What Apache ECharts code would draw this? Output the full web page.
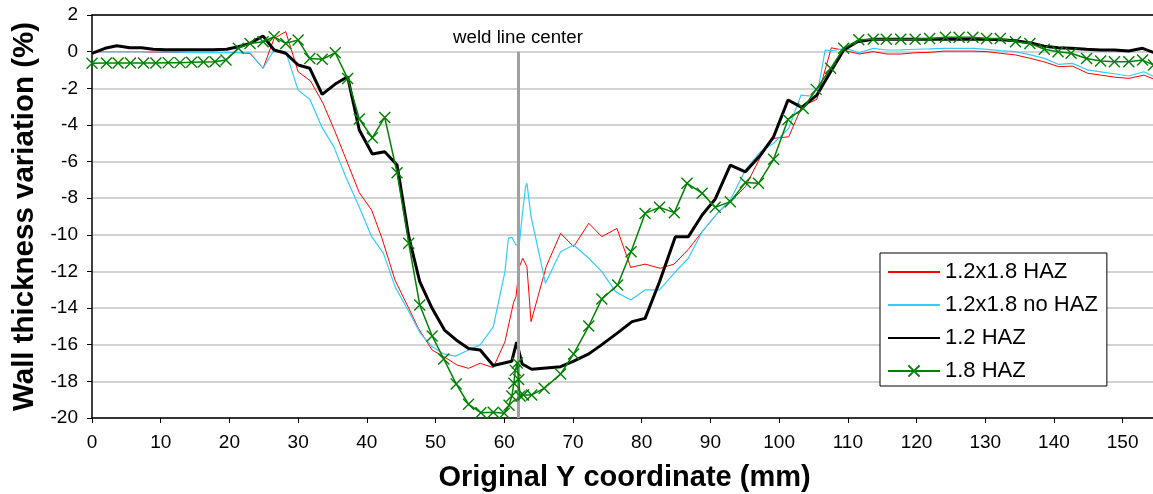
<!DOCTYPE html>
<html>
<head>
<meta charset="utf-8">
<script src="https://cdn.jsdelivr.net/npm/echarts@6/dist/echarts.min.js"></script>
<style>
html,body{margin:0;padding:0;background:#fff;}
#chart{width:1153px;height:494px;}
</style>
</head>
<body>
<div id="chart"></div>
<script>
// ---- Data (Original Y coordinate mm, wall thickness variation %) ----
const seriesNames = ['1.2x1.8 HAZ', '1.2x1.8 no HAZ', '1.2 HAZ', '1.8 HAZ'];
const weldX = 62;
const weldLabel = 'weld line center';
const xTitle = 'Original Y coordinate (mm)';
const yTitle = 'Wall thickness variation (%)';

const red = [[0,0],[1.9,0],[3.6,0],[5.5,0],[7.2,0],[8.9,-0.02],[10.7,-0.03],[12.4,-0.04],[14.1,-0.05],[15.8,-0.05],[17.6,-0.05],[19.6,-0.05],[21.3,-0.05],[23.0,-0.1],[24.9,-0.91],[26.5,0.72],[28.2,1.09],[30.0,-1.1],[31.8,-1.6],[33.6,-2.8],[35.3,-4.3],[37.0,-5.9],[38.9,-7.7],[40.7,-8.65],[42.2,-10.19],[44.1,-12.47],[46.1,-14.01],[47.5,-15.1],[49.5,-16.29],[51.2,-16.65],[53.1,-17.1],[54.8,-17.29],[56.5,-17.01],[58.4,-17.25],[60.1,-15.84],[61.35,-13.7],[61.7,-13.38],[62.2,-11.74],[62.7,-11.28],[63.3,-11.74],[63.9,-14.74],[65.7,-12.29],[66.1,-11.74],[68.2,-9.92],[70.1,-10.65],[72.3,-9.37],[74.2,-10.1],[76.4,-9.65],[78.4,-11.78],[80.5,-11.6],[82.7,-11.83],[84.7,-11.6],[86.8,-10.79],[88.8,-9.83],[91.0,-8.83],[92.9,-8.19],[95.1,-7.37],[97.3,-5.74],[99.2,-4.73],[101.4,-4.65],[103.3,-3.0],[105.5,-2.6],[107.6,0.21],[109.7,0.05],[111.7,-0.13],[113.7,0],[115.7,-0.13],[117.7,-0.13],[119.9,-0.06],[122.0,-0.04],[124.0,0.03],[126.1,0.03],[128.2,0.03],[130.3,0],[132.2,-0.09],[134.4,-0.18],[136.6,-0.37],[138.5,-0.55],[140.7,-0.82],[142.7,-0.79],[144.9,-1.18],[146.8,-1.28],[149.0,-1.4],[150.9,-1.46],[153.1,-1.28],[154.6,-1.51]];

const cyan = [[0,0],[1.9,0],[3.6,0],[5.5,0],[7.2,0],[8.9,0],[10.7,-0.02],[12.4,-0.03],[14.1,-0.04],[15.8,-0.05],[17.6,-0.05],[19.6,-0.05],[21.3,-0.05],[23.0,-0.06],[24.9,-0.91],[26.5,0.09],[28.2,0],[30.0,-2.1],[31.7,-2.6],[33.5,-4.15],[35.2,-5.2],[37.0,-6.9],[38.8,-8.4],[40.7,-10.1],[42.4,-11.0],[44.1,-12.83],[46.1,-14.19],[47.8,-15.38],[49.5,-16.1],[51.2,-16.5],[52.9,-16.62],[54.8,-16.29],[56.5,-16.01],[58.4,-15.02],[60.1,-12.01],[60.6,-10.19],[61.1,-10.14],[61.7,-10.56],[62.2,-10.47],[62.6,-9.0],[63.1,-7.37],[63.3,-7.19],[63.9,-9.0],[66.0,-12.65],[68.2,-10.92],[70.1,-10.56],[72.3,-11.28],[74.2,-12.01],[76.2,-13.1],[78.4,-13.56],[80.5,-13.01],[82.6,-13.01],[84.7,-12.1],[86.8,-11.28],[88.8,-9.83],[91.0,-8.83],[92.9,-8.1],[95.1,-6.46],[97.3,-5.46],[99.2,-5.0],[101.4,-4.19],[103.2,-2.37],[105.5,-2.46],[106.7,0.09],[107.6,0.05],[109.7,0.18],[111.7,-0.06],[113.7,0.18],[115.7,0.09],[117.7,0.1],[119.9,0.13],[121.9,0.15],[124.0,0.18],[126.1,0.18],[128.2,0.18],[130.3,0.12],[132.2,0.05],[134.4,0],[136.6,-0.18],[138.6,-0.37],[140.7,-0.7],[142.7,-0.64],[144.9,-1.0],[146.8,-1.1],[149.0,-1.22],[150.9,-1.33],[153.1,-1.1],[154.6,-1.37]];

const black = [[0,-0.09],[1.9,0.18],[3.6,0.32],[5.5,0.21],[7.2,0.21],[8.9,0.13],[10.7,0.1],[12.4,0.1],[14.1,0.1],[15.8,0.1],[17.6,0.1],[19.6,0.13],[21.3,0.27],[23.0,0.45],[24.9,0.85],[26.5,0.09],[28.2,-0.09],[30.0,-0.73],[31.7,-0.91],[33.5,-2.33],[35.4,-1.77],[37.2,-1.37],[38.9,-4.28],[40.8,-5.59],[42.6,-5.46],[44.4,-6.19],[46.1,-10.1],[47.7,-12.56],[49.5,-14.01],[51.3,-15.2],[53.0,-15.74],[54.8,-16.2],[56.5,-16.29],[58.4,-17.13],[61.1,-16.9],[61.8,-15.86],[62.6,-17.05],[64.0,-17.34],[68.2,-17.2],[70.1,-16.9],[72.3,-16.5],[74.0,-16.05],[76.4,-15.38],[78.6,-14.74],[80.5,-14.56],[82.6,-12.56],[84.9,-10.1],[86.8,-10.1],[88.8,-8.92],[90.7,-8.05],[92.9,-6.19],[95.1,-6.56],[97.3,-5.64],[99.2,-4.65],[101.3,-2.64],[103.3,-3.04],[105.5,-2.37],[107.5,-1.1],[109.4,0.09],[111.4,0.54],[113.7,0.67],[115.6,0.67],[117.7,0.67],[119.8,0.67],[121.9,0.67],[124.2,0.67],[126.2,0.67],[128.2,0.67],[130.2,0.67],[132.2,0.65],[134.4,0.6],[136.6,0.47],[138.6,0.3],[140.6,0.21],[142.5,0.18],[144.75,0.13],[146.8,0.09],[148.8,0.09],[150.9,0.03],[152.9,0.18],[154.6,-0.06]];

const green = [[0,-0.64],[2.1,-0.62],[3.8,-0.62],[5.6,-0.62],[7.5,-0.62],[9.3,-0.62],[11.1,-0.6],[12.8,-0.6],[14.5,-0.58],[16.2,-0.56],[17.9,-0.55],[19.5,-0.46],[21.3,0.18],[23.0,0.45],[24.9,0.54],[26.5,0.81],[28.2,0.45],[30.0,0.63],[31.7,-0.37],[33.5,-0.42],[35.4,-0.06],[37.2,-1.46],[38.9,-3.68],[40.8,-4.7],[42.6,-3.59],[44.4,-6.61],[46.1,-10.46],[47.7,-13.83],[49.5,-15.52],[51.2,-16.78],[53.0,-18.14],[54.8,-19.25],[56.6,-19.71],[58.4,-19.69],[60.0,-19.74],[60.7,-19.3],[61.1,-18.8],[61.4,-18.1],[61.6,-17.4],[61.9,-17.0],[62.1,-17.9],[62.3,-18.8],[62.8,-18.74],[64.0,-18.74],[65.8,-18.38],[68.2,-17.6],[70.1,-16.5],[72.3,-14.98],[74.2,-13.5],[76.5,-12.74],[78.45,-10.92],[80.5,-8.83],[82.6,-8.5],[84.75,-8.79],[86.6,-7.19],[88.8,-7.73],[90.7,-8.5],[92.9,-8.19],[95.1,-7.15],[97.0,-7.19],[99.2,-5.88],[101.3,-3.7],[103.5,-3.1],[105.4,-2.06],[107.5,-0.91],[109.4,0.18],[111.6,0.65],[113.7,0.67],[115.6,0.67],[117.7,0.67],[119.8,0.67],[121.9,0.72],[124.2,0.78],[126.2,0.78],[128.2,0.78],[130.2,0.72],[132.2,0.72],[134.4,0.54],[136.5,0.45],[138.6,0.13],[140.6,0],[142.5,-0.09],[144.75,-0.37],[146.8,-0.51],[148.8,-0.55],[150.9,-0.55],[152.9,-0.46],[154.5,-0.73]];

// ---- Chart ----
const FONT = "'Liberation Sans', Arial, sans-serif";
const chart = echarts.init(document.getElementById('chart'), null, {renderer: 'canvas'});
const crossSymbol = 'path://M0,0L10,10M10,0L0,10';

const option = {
  animation: false,
  backgroundColor: '#ffffff',
  textStyle: {fontFamily: FONT},
  grid: {left: 92, top: 15, right: -4, bottom: 76, containLabel: false, outerBoundsMode: 'none'},
  legend: {
    data: [
      {name: seriesNames[0], itemStyle: {opacity: 0}},
      {name: seriesNames[1], itemStyle: {opacity: 0}},
      {name: seriesNames[2], itemStyle: {opacity: 0}},
      {name: seriesNames[3]}
    ],
    orient: 'vertical',
    left: 880,
    top: 253,
    backgroundColor: '#ffffff',
    borderColor: '#000000',
    borderWidth: 1,
    padding: [8, 9, 4, 7],
    itemGap: 11,
    itemWidth: 52,
    itemHeight: 14,
    textStyle: {fontFamily: FONT, fontSize: 22, color: '#000'},
    selectedMode: false
  },
  xAxis: [{
    type: 'value',
    min: 0,
    max: 155,
    interval: 10,
    name: xTitle,
    nameLocation: 'middle',
    nameGap: 45,
    nameTextStyle: {fontFamily: FONT, fontSize: 29, fontWeight: 'bold', color: '#000'},
    axisLine: {show: true, onZero: false, lineStyle: {color: '#000', width: 1.5}},
    axisTick: {show: true, inside: false, length: 5, lineStyle: {color: '#000', width: 1}},
    axisLabel: {fontFamily: FONT, fontSize: 19, color: '#000', margin: 15, showMaxLabel: false},
    splitLine: {show: false}
  }, {
    type: 'value',
    position: 'top',
    min: 0,
    max: 155,
    axisLine: {show: true, onZero: false, lineStyle: {color: '#000', width: 1.5}},
    axisTick: {show: false},
    axisLabel: {show: false},
    splitLine: {show: false}
  }],
  yAxis: {
    type: 'value',
    min: -20,
    max: 2,
    interval: 2,
    name: yTitle,
    nameLocation: 'middle',
    nameGap: 52,
    nameTextStyle: {fontFamily: FONT, fontSize: 29.5, fontWeight: 'bold', color: '#000'},
    axisLine: {show: true, onZero: false, lineStyle: {color: '#000', width: 1.5}},
    axisTick: {show: true, inside: false, length: 5, lineStyle: {color: '#000', width: 1}},
    axisLabel: {fontFamily: FONT, fontSize: 19, color: '#000', margin: 14},
    splitLine: {show: true, lineStyle: {color: '#c4c4c4', width: 1.5}}
  },
  series: [
    {
      name: '__weld',
      type: 'line',
      data: [],
      silent: true,
      z: 1,
      markLine: {
        silent: true,
        symbol: ['none', 'none'],
        animation: false,
        lineStyle: {color: '#a0a0a0', width: 3, type: 'solid'},
        label: {
          show: true,
          position: 'end',
          formatter: weldLabel,
          fontFamily: FONT,
          fontSize: 18.7,
          color: '#000',
          distance: 4
        },
        emphasis: {disabled: true},
        data: [[{coord: [weldX, -20]}, {coord: [weldX, 0]}]]
      }
    },
    {
      name: seriesNames[0],
      type: 'line',
      data: red,
      symbol: 'none',
      z: 2,
      lineStyle: {color: '#ff0000', width: 1},
      itemStyle: {color: '#ff0000'}
    },
    {
      name: seriesNames[1],
      type: 'line',
      data: cyan,
      symbol: 'none',
      z: 3,
      lineStyle: {color: '#33ccff', width: 1.2},
      itemStyle: {color: '#33ccff'}
    },
    {
      name: seriesNames[2],
      type: 'line',
      data: black,
      symbol: 'none',
      z: 4,
      lineStyle: {color: '#000000', width: 3},
      itemStyle: {color: '#000000'}
    },
    {
      name: seriesNames[3],
      type: 'line',
      data: green,
      symbol: crossSymbol,
      symbolSize: 11,
      showSymbol: true,
      z: 5,
      lineStyle: {color: '#008000', width: 1.5},
      itemStyle: {color: 'rgba(0,0,0,0)', borderColor: '#008000', borderWidth: 1.4}
    }
  ]
};
chart.setOption(option);
</script>
</body>
</html>
